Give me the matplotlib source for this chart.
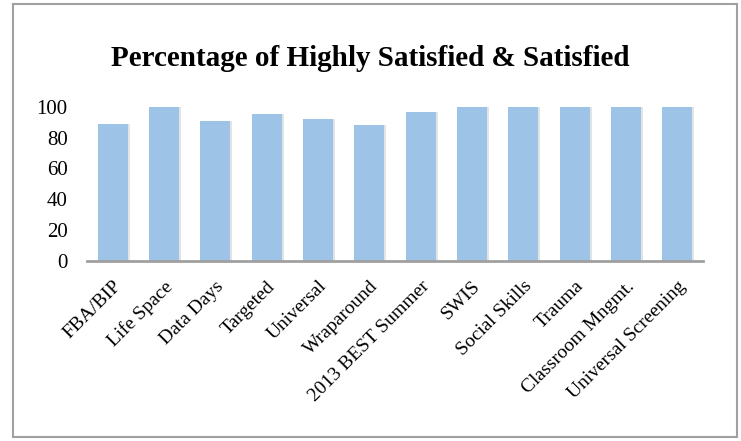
import matplotlib
matplotlib.use('Agg')
import matplotlib.pyplot as plt
from matplotlib.patches import Rectangle

categories = ['FBA/BIP', 'Life Space', 'Data Days', 'Targeted', 'Universal',
              'Wraparound', '2013 BEST Summer', 'SWIS', 'Social Skills',
              'Trauma', 'Classroom Mngmt.', 'Universal Screening']
values = [89, 100, 90.5, 95.5, 91.8, 88.3, 96.3, 100, 100, 100, 100, 100]
yticks = [0, 20, 40, 60, 80, 100]

plt.rcParams['font.family'] = ['Liberation Serif', 'DejaVu Serif']

fig = plt.figure(figsize=(7.41, 4.41), dpi=100)
ax = fig.add_axes([87/741, 1 - 261/441, 616/741, (261 - 106.7)/441])

x = list(range(len(categories)))
# soft shadow behind the bars
ax.bar([i + 0.04 for i in x], values, width=0.58, color='#E3E3E3', zorder=1)
ax.bar(x, values, width=0.58, color='#9DC3E6', zorder=2)

ax.set_xlim(-0.5, len(categories) - 0.5)
ax.set_ylim(0, 100)
ax.set_yticks(yticks)
ax.set_xticks(x)
ax.set_xticklabels(categories, rotation=45, ha='right', rotation_mode='anchor', fontsize=14)
ax.tick_params(axis='y', length=0, pad=14, labelsize=15)
ax.tick_params(axis='x', length=0, pad=12)
for s in ['top', 'right', 'left']:
    ax.spines[s].set_visible(False)
ax.spines['bottom'].set_color('#A0A0A0')
ax.spines['bottom'].set_linewidth(2)
ax.spines['bottom'].set_zorder(3)

fig.text(370/741, 1 - 58/441, 'Percentage of Highly Satisfied & Satisfied',
         ha='center', va='center', fontsize=21, fontweight='bold')

# outer chart frame
fig.patches.append(Rectangle((13/741, 4/441), (737 - 13)/741, (437 - 4)/441,
                             transform=fig.transFigure, fill=False,
                             edgecolor='#A0A0A0', linewidth=1.5))

fig.savefig('out.png', dpi=100)
